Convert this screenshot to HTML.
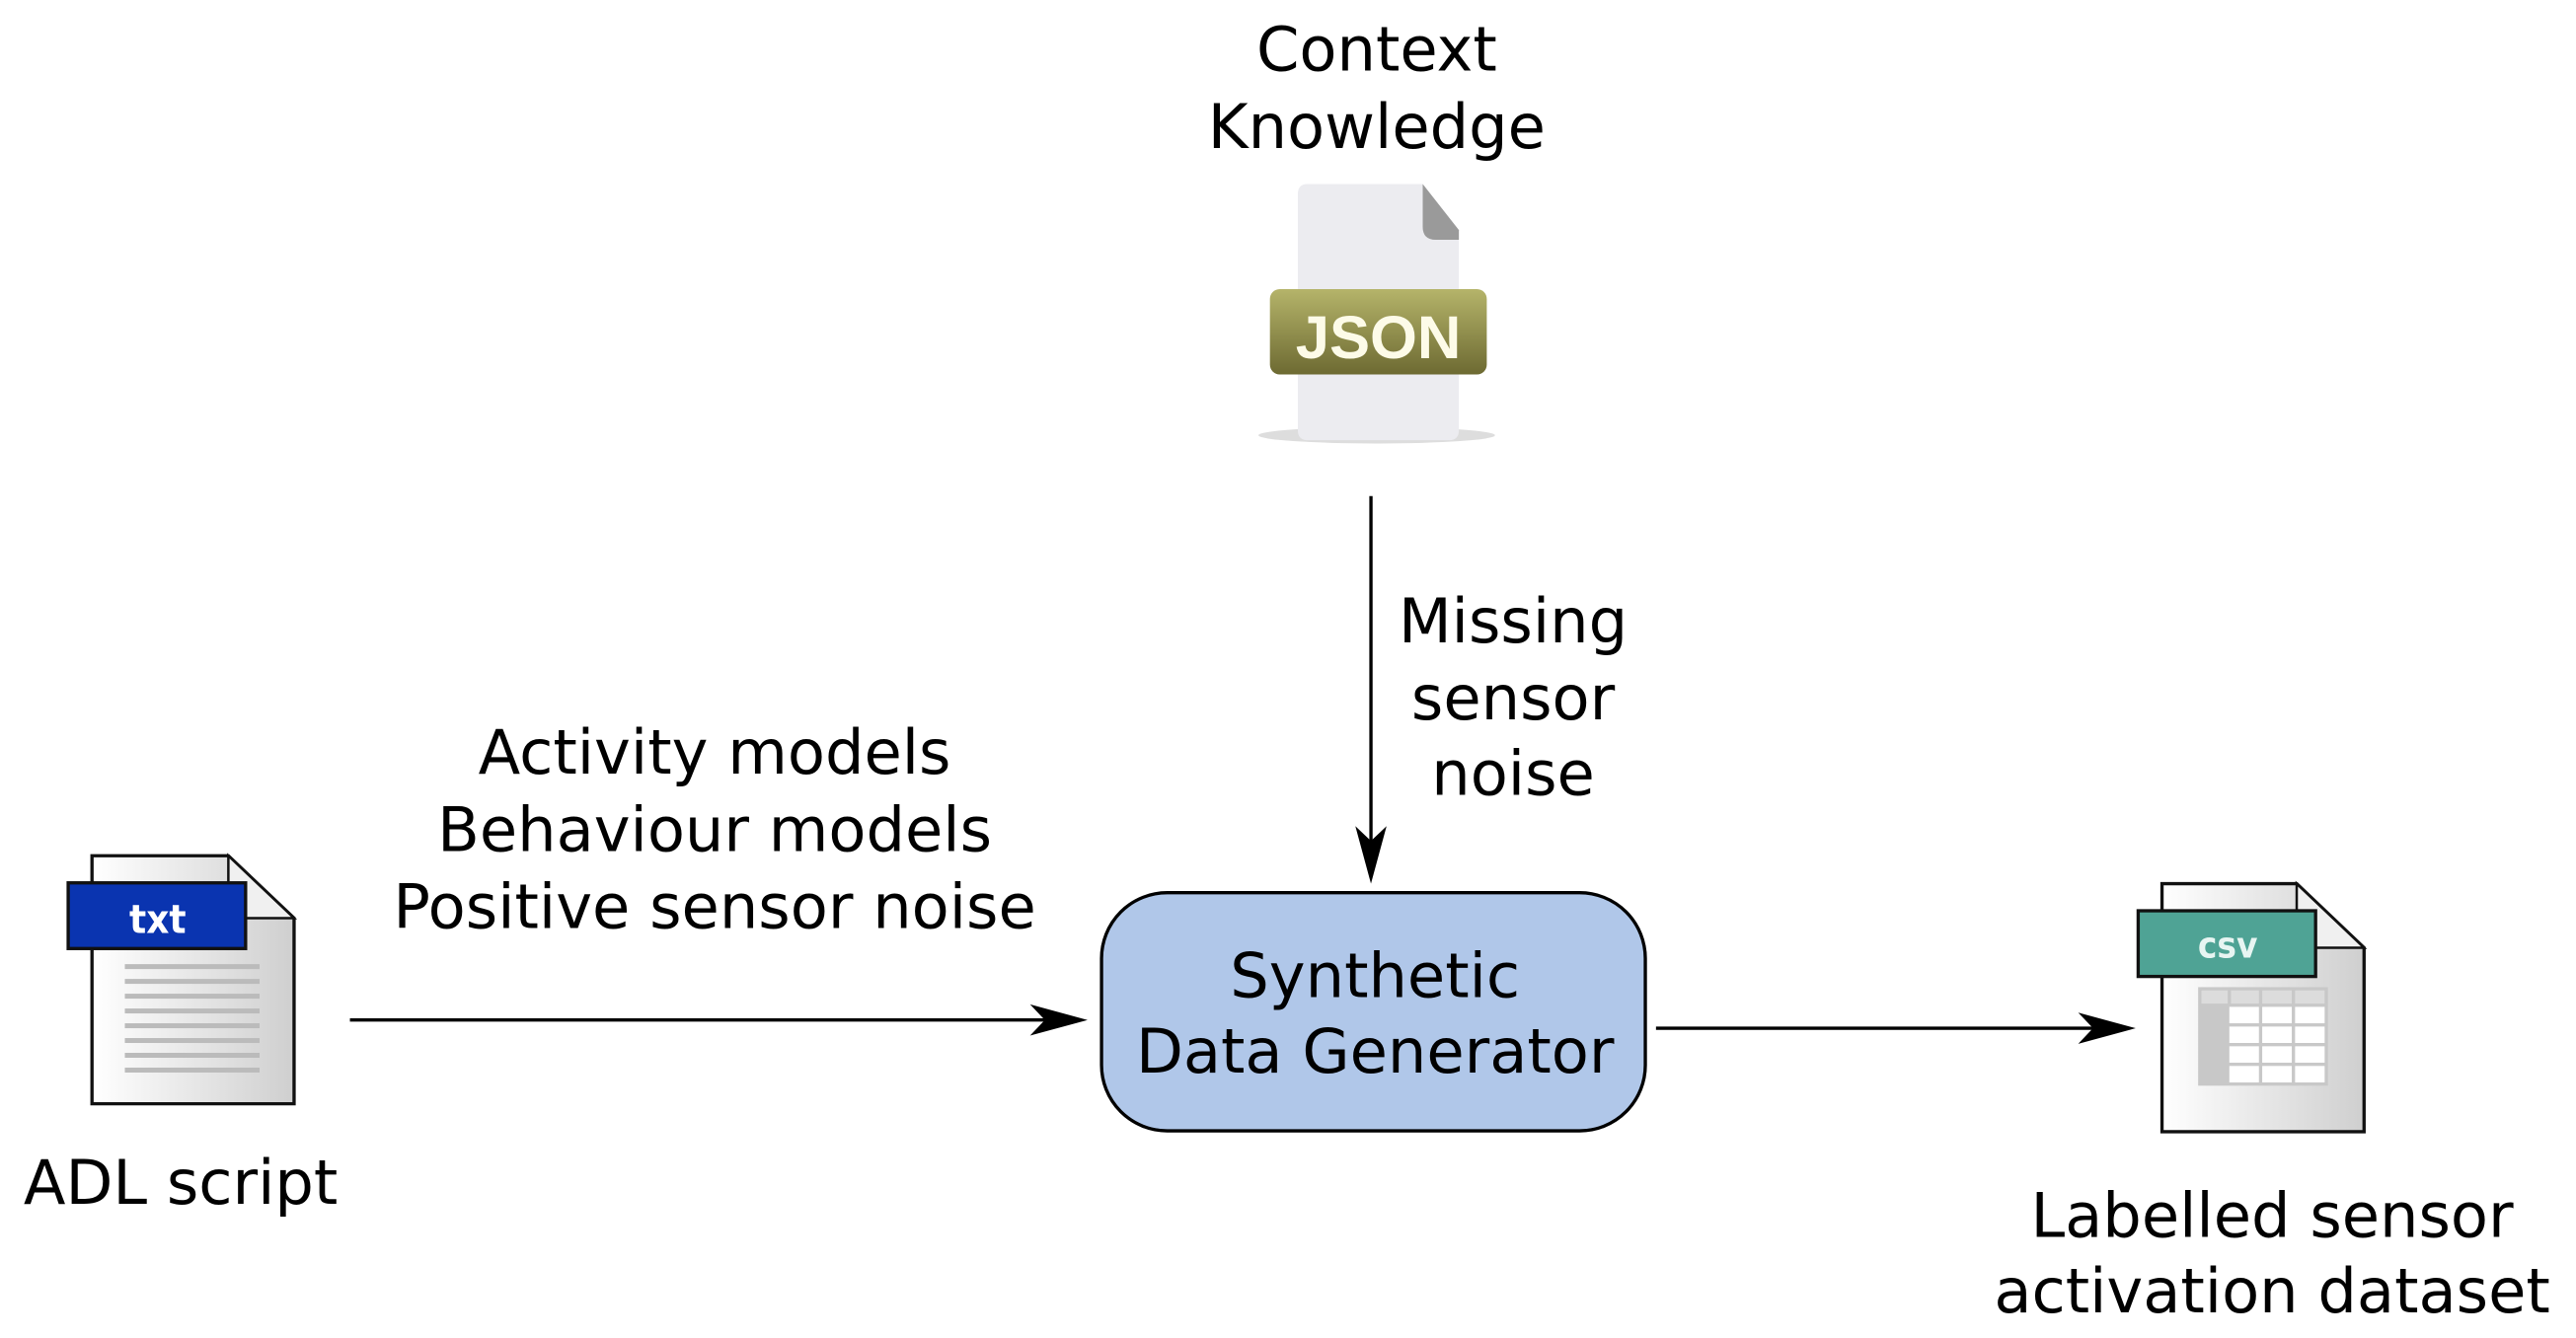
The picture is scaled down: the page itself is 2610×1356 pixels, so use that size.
<!DOCTYPE html>
<html><head><meta charset="utf-8"><style>html,body{margin:0;padding:0;background:#fff}svg{display:block}</style></head>
<body>
<svg width="2610" height="1356" viewBox="0 0 1568 814.6" xmlns="http://www.w3.org/2000/svg" font-family="'DejaVu Sans','Liberation Sans',sans-serif" font-size="37.4" text-anchor="middle">
<defs>
<linearGradient id="pg" x1="0" x2="1"><stop offset="0" stop-color="#fff"/><stop offset="1" stop-color="#cfcfcf"/></linearGradient>
<linearGradient id="jg" x1="0" y1="0" x2="0" y2="1"><stop offset="0" stop-color="#b5b46a"/><stop offset="1" stop-color="#6d6a32"/></linearGradient>
</defs>
<text x="838" y="43">Context</text>
<text x="838" y="90">Knowledge</text>
<ellipse cx="838" cy="265" rx="72" ry="5" fill="#ddd"/>
<path d="M796 112 H866 L888 140 V262 Q888 268 882 268 H796 Q790 268 790 262 V118 Q790 112 796 112Z" fill="#ececf0"/>
<path d="M866 112 L888 140 V146 H874 Q866 146 866 138Z" fill="#9a9a9a"/>
<rect x="773" y="176" width="132" height="52" rx="6" fill="url(#jg)"/>
<text x="839" y="218" font-size="37" font-weight="bold" fill="#fdfbe8" font-family="'Liberation Sans',sans-serif">JSON</text>
<line x1="834.5" y1="302" x2="834.5" y2="525" stroke="#000" stroke-width="2"/>
<path d="M834.5 538 L825 503 L834.5 512 L844 503Z" fill="#000"/>
<text x="921" y="391">Missing</text>
<text x="921" y="438">sensor</text>
<text x="921" y="484">noise</text>
<text x="435" y="471">Activity models</text>
<text x="435" y="518">Behaviour models</text>
<text x="435" y="565">Positive sensor noise</text>
<line x1="213" y1="621" x2="650" y2="621" stroke="#000" stroke-width="2"/>
<path d="M662 621 L627 611.5 L636 621 L627 630.5Z" fill="#000"/>
<rect x="670.5" y="543.5" width="331" height="145" rx="40" fill="#b0c7e9" stroke="#000" stroke-width="2"/>
<text x="837" y="607">Synthetic</text>
<text x="837" y="653">Data Generator</text>
<line x1="1008" y1="626" x2="1288" y2="626" stroke="#000" stroke-width="2"/>
<path d="M1300 626 L1265 616.5 L1274 626 L1265 635.5Z" fill="#000"/>
<path d="M56 521 H139 L179 559 V672 H56Z" fill="url(#pg)" stroke="#111" stroke-width="2"/>
<path d="M139 521 V559 H179Z" fill="#f0f0f0" stroke="#111" stroke-width="1.5"/>
<rect x="41.5" y="537.5" width="108" height="40" fill="#0a34b0" stroke="#111" stroke-width="2"/>
<text x="96" y="568" font-size="24" font-weight="bold" fill="#fff" font-family="'DejaVu Sans Condensed','DejaVu Sans',sans-serif">txt</text>
<g fill="#bbb"><rect x="76" y="587" width="82" height="3"/><rect x="76" y="596" width="82" height="3"/><rect x="76" y="605" width="82" height="3"/><rect x="76" y="614" width="82" height="3"/><rect x="76" y="623" width="82" height="3"/><rect x="76" y="632" width="82" height="3"/><rect x="76" y="641" width="82" height="3"/><rect x="76" y="650" width="82" height="3"/></g>
<text x="110" y="733">ADL script</text>
<path d="M1316 538 H1398 L1439 577 V689 H1316Z" fill="url(#pg)" stroke="#111" stroke-width="2"/>
<path d="M1398 538 V577 H1439Z" fill="#f0f0f0" stroke="#111" stroke-width="1.5"/>
<rect x="1301.5" y="554.5" width="108" height="40" fill="#4fa395" stroke="#111" stroke-width="2"/>
<text x="1356" y="583" font-size="22" font-weight="bold" fill="#e8f5f2" font-family="'DejaVu Sans Condensed','DejaVu Sans',sans-serif">csv</text>
<g>
<rect x="1338" y="601" width="79" height="60" fill="#c8c8c8"/>
<g fill="#fff"><rect x="1357" y="613" width="18" height="10"/><rect x="1377" y="613" width="18" height="10"/><rect x="1397" y="613" width="18" height="10"/>
<rect x="1357" y="625" width="18" height="10"/><rect x="1377" y="625" width="18" height="10"/><rect x="1397" y="625" width="18" height="10"/>
<rect x="1357" y="637" width="18" height="10"/><rect x="1377" y="637" width="18" height="10"/><rect x="1397" y="637" width="18" height="10"/>
<rect x="1357" y="649" width="18" height="10"/><rect x="1377" y="649" width="18" height="10"/><rect x="1397" y="649" width="18" height="10"/></g>
<g fill="#dcdcdc"><rect x="1340" y="603" width="16" height="8"/><rect x="1358" y="603" width="17" height="8"/><rect x="1377" y="603" width="18" height="8"/><rect x="1397" y="603" width="18" height="8"/></g>
</g>
<text x="1383" y="753">Labelled sensor</text>
<text x="1383" y="799">activation dataset</text>
</svg>
</body></html>
